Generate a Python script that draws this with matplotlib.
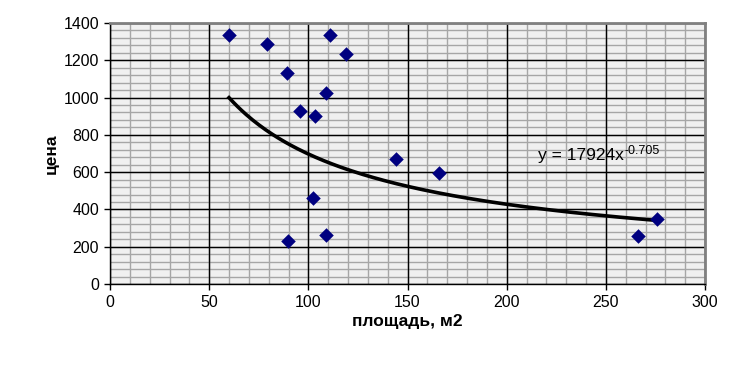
import numpy as np
import matplotlib
matplotlib.use('Agg')
import matplotlib.pyplot as plt
from matplotlib.ticker import MultipleLocator

plt.rcParams['font.family'] = ['Liberation Sans', 'DejaVu Sans']

# data
area = [60, 79, 89, 111, 119, 109, 96, 103.5, 144, 166, 89.5, 109, 102.5, 276, 266]
price = [1335, 1285, 1132, 1335, 1232, 1023, 928, 903, 670, 595, 231, 264, 460, 348, 259]

# power trendline  y = a * x^b
coef_a = 17924
coef_b = -0.705

fig = plt.figure(figsize=(7.41, 3.69), dpi=100)
ax = fig.add_axes([110/741, 1 - 284/369, 595/741, 261/369])
ax.set_facecolor('#f0f0f0')

xt = np.linspace(min(area), max(area), 200)
ax.plot(xt, coef_a * xt**coef_b, color='black', lw=2.6, zorder=3)
ax.scatter(area, price, marker='D', s=55, color='#000080', zorder=4, lw=0)

ax.set_xlim(0, 300)
ax.set_ylim(0, 1400)
ax.xaxis.set_major_locator(MultipleLocator(50))
ax.yaxis.set_major_locator(MultipleLocator(200))

# gridlines: gray minor first, black major on top
for v in np.arange(10, 300, 10):
    ax.axvline(v, color='#a6a6a6', lw=1.0, zorder=0.5)
for v in np.arange(40, 1400, 40):
    ax.axhline(v, color='#a6a6a6', lw=1.0, zorder=0.5)
for v in ax.get_xticks()[1:-1]:
    ax.axvline(v, color='black', lw=1.0, zorder=1)
for v in ax.get_yticks()[1:-1]:
    ax.axhline(v, color='black', lw=1.0, zorder=1)

ax.tick_params(which='major', direction='out', length=4, width=1,
               labelsize=11.5, pad=4)

for s in ['top', 'right']:
    ax.spines[s].set_color('#808080')
    ax.spines[s].set_linewidth(2)
for s in ['left', 'bottom']:
    ax.spines[s].set_color('black')
    ax.spines[s].set_linewidth(1)

ax.set_xlabel('площадь, м2', fontsize=12.5, fontweight='bold', labelpad=3)
ax.set_ylabel('цена', fontsize=12.5, fontweight='bold', labelpad=3)

# trendline equation, exponent as a separate superscript text
eq = ax.text(216, 690, 'y = %dx' % coef_a, fontsize=12.5, va='center', ha='left')
ax.annotate('%.3f' % coef_b, xy=(1, 0.42), xycoords=eq, fontsize=9,
            va='bottom', ha='left')

fig.savefig('out.png', dpi=100)
